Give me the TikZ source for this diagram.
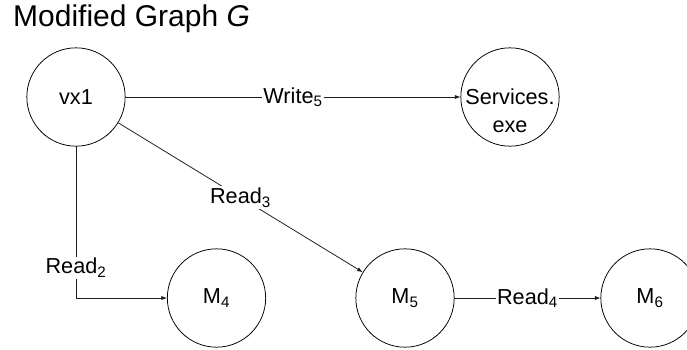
\documentclass[tikz,border=0pt]{standalone}
\usepackage{fontspec}
\setmainfont{Liberation Sans}
\usetikzlibrary{arrows.meta}
\definecolor{ink}{HTML}{000000}
\definecolor{wire}{HTML}{1A1A1A}
\tikzset{
  arr/.style={-{Latex[length=4.8pt,width=3.6pt]}, line width=0.65pt, draw=wire},
  figbase/.style={
    font=\fontsize{18.5}{23.4}\selectfont,
    color=ink,
    line cap=round,
    line join=round,
  },
  vertex/.style={
    circle, draw=ink, line width=0.65pt,
    minimum size=2.95cm, inner sep=0pt,
    align=center, text=ink,
  },
  elab/.style={fill=white, inner sep=1.2pt, text=ink},
  head/.style={font=\fontsize{25.6}{30}\selectfont, text=ink, anchor=base west, inner sep=0pt},
}
% two-line name hung from the first line, so the first line sits on the centre
\newcommand{\hungname}[2]{\raisebox{-6.6pt}[0pt][0pt]{\begin{tabular}[t]{@{}c@{}}#1\\#2\end{tabular}}}

\begin{document}
\begin{tikzpicture}[figbase]
  \useasboundingbox (0,0) rectangle (20.61,-10.47);

  \node[head] (title) at (0.39,-0.80) {Modified Graph \textit{G}};

  % top row
  \node[vertex] (vx1) at (2.28,-2.91) {vx1};
  \node[vertex] (svc) at (15.30,-2.91) {\hungname{Services.}{exe}};

  % bottom row
  \node[vertex] (m4) at (6.495,-8.94) {M\textsubscript{4}};
  \node[vertex] (m5) at (12.15,-8.94) {M\textsubscript{5}};
  \node[vertex] (m6) at (19.50,-8.94) {M\textsubscript{6}};

  \draw[arr] (vx1) -- node[elab] {Write\textsubscript{5}} (svc);
  \draw[arr] (vx1) -- node[elab] {Read\textsubscript{3}} (m5);
  \draw[arr] (vx1) |- node[elab, pos=0.4] {Read\textsubscript{2}} (m4);
  \draw[arr] (m5) -- node[elab] {Read\textsubscript{4}} (m6);
\end{tikzpicture}
\end{document}
